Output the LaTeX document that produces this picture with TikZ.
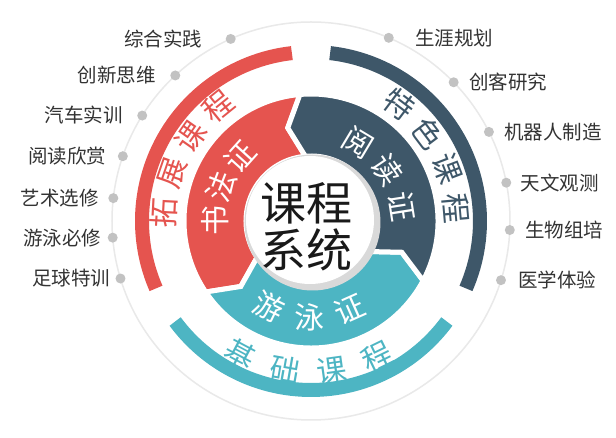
\documentclass[tikz,border=0pt]{standalone}
\usepackage{fontspec}
\setmainfont{Noto Sans CJK SC}
\usepackage{xcolor}
\definecolor{coralred}{HTML}{E5544F}
\definecolor{slateblue}{HTML}{3E5769}
\definecolor{poolteal}{HTML}{4DB5C3}
\definecolor{dotgray}{HTML}{C2C2C2}
\definecolor{ringgray}{HTML}{E9E9E9}
\definecolor{labelgray}{HTML}{333333}
\usepackage{tikz}
\usetikzlibrary{positioning}

\tikzset{
	bullet/.style={circle, fill=dotgray, inner sep=0pt, minimum size=10pt},
	lbl/.style={text=labelgray, inner sep=0pt, font=\fontsize{19.5}{20}\selectfont},
	ringchar/.style={inner sep=0pt, font=\fontsize{30}{30}\selectfont},
}

% one arrow piece of the inner ring: notch at #2, tip at #3
\newcommand{\arrowseg}[3]{%
	\filldraw[fill=#1, draw=white, line width=5pt]
	(#2:127) arc[start angle=#2, end angle=#3, radius=127]
	-- ({#3+9}:96) -- (#3:65)
	arc[start angle=#3, end angle=#2, radius=65]
	-- ({#2+9}:96) -- cycle;}

\begin{document}
\begin{tikzpicture}[x=1pt, y=1pt]
	
	\fill[white] (-311, -217) rectangle (305, 221);
	\useasboundingbox (-311, -217) rectangle (305, 221);
	\coordinate (O) at (0, 0);
	
	\draw[ringgray, line width=1.5pt] (O) circle[radius=199];
	
	\draw[coralred, line width=14pt] (96.5:169) arc[start angle=96.5, end angle=203.5, radius=169];
	\draw[poolteal, line width=14pt] (216.5:169) arc[start angle=216.5, end angle=323.5, radius=169];
	\draw[slateblue, line width=14pt] (-23.5:169) arc[start angle=-23.5, end angle=83.5, radius=169];
	
	\arrowseg{coralred}{95}{214}
	\arrowseg{poolteal}{214}{332}
	\arrowseg{slateblue}{-28}{95}
	
	\fill[gray!30] (1.5, -1.5) circle[radius=68];
	\fill[white] (-1, 1) circle[radius=64];
	
	\node[align=center, text=black!90, font=\fontsize{46}{47}\selectfont] (title) at (-4, -6) {课程\\系统};
	
	\foreach \ch [count=\i] in {书,法,证} {
		\pgfmathsetmacro{\ang}{180-21*(\i-1)}
		\pgfmathsetmacro{\rot}{\ang-90}
		\node[ringchar, text=white, rotate=\rot] (sf\i) at (\ang:96) {\ch};
	}
	\foreach \ch [count=\i] in {阅,读,证} {
		\pgfmathsetmacro{\ang}{59-25*(\i-1)}
		\pgfmathsetmacro{\rot}{\ang-90}
		\node[ringchar, text=white, rotate=\rot] (yd\i) at (\ang:92) {\ch};
	}
	\foreach \ch [count=\i] in {游,泳,证} {
		\pgfmathsetmacro{\ang}{244+25*(\i-1)}
		\pgfmathsetmacro{\rot}{\ang+90}
		\node[ringchar, text=white, rotate=\rot] (yy\i) at (\ang:96) {\ch};
	}
	
	\foreach \ch [count=\i] in {拓,展,课,程} {
		\pgfmathsetmacro{\ang}{177-16*(\i-1)}
		\pgfmathsetmacro{\rot}{\ang-90}
		\node[ringchar, text=coralred, rotate=\rot] (tz\i) at (\ang:147) {\ch};
	}
	\foreach \ch [count=\i] in {特,色,课,程} {
		\pgfmathsetmacro{\ang}{53-16*(\i-1)}
		\pgfmathsetmacro{\rot}{\ang-90}
		\node[ringchar, text=slateblue, rotate=\rot] (ts\i) at (\ang:146) {\ch};
	}
	\foreach \ch [count=\i] in {基,础,课,程} {
		\pgfmathsetmacro{\ang}{242+18*(\i-1)}
		\pgfmathsetmacro{\rot}{\ang+90}
		\node[ringchar, text=poolteal, rotate=\rot] (jc\i) at (\ang:151) {\ch};
	}
	
	\foreach \ang/\txt/\gap [count=\i] in {113.8/综合实践/23, 133/创新思维/14, 148/汽车实训/14, 161/阅读欣赏/11, 173.4/艺术选修/9, 184.8/游泳必修/6, 196.8/足球特训/5} {
		\node[bullet] (lt\i) at (\ang:199) {};
		\node[lbl, left=\gap pt of lt\i] (ltx\i) {\txt};
	}
	\foreach \ang/\txt/\gap [count=\i] in {67/生涯规划/21, 44.2/创客研究/10, 26.6/机器人制造/10, 11.1/天文观测/9, -2.6/生物组培/10, -17.3/医学体验/12} {
		\node[bullet] (rt\i) at (\ang:199) {};
		\node[lbl, right=\gap pt of rt\i] (rtx\i) {\txt};
	}
\end{tikzpicture}
\end{document}
